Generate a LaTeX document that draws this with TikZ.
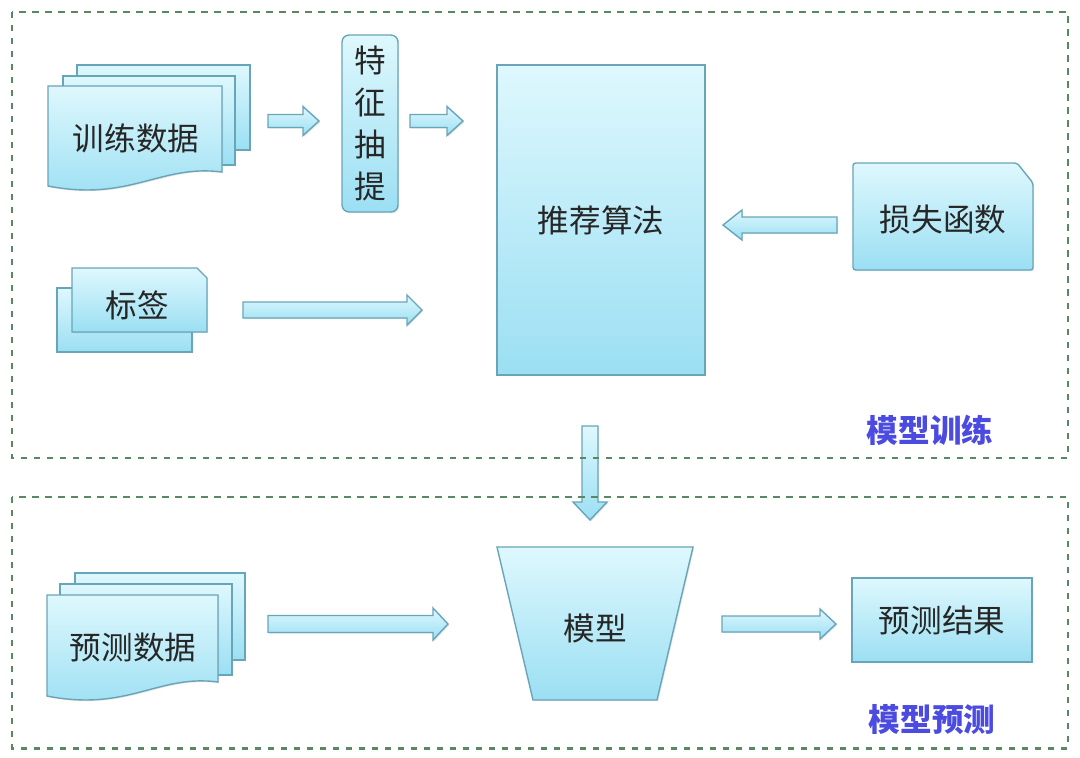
\documentclass[tikz,border=0pt]{standalone}
\usepackage{fontspec}
\newfontfamily\cjk{Noto Sans CJK SC}
\usetikzlibrary{calc,shadows}

\definecolor{boxtop}{RGB}{222,248,253}
\definecolor{boxbot}{RGB}{155,223,243}
\definecolor{boxline}{RGB}{105,165,185}
\definecolor{framegreen}{RGB}{90,135,100}
\definecolor{stageblue}{RGB}{75,75,225}

\tikzset{
	sheet/.style={draw=boxline, line width=0.8pt, top color=boxtop, bottom color=boxbot,
		drop shadow={opacity=0.2, shadow xshift=0.7pt, shadow yshift=-0.7pt}},
	box/.style={sheet, inner sep=0pt},
	word/.style={font=\cjk\fontsize{18}{24}\selectfont, text=black!85},
	stage/.style={font=\cjk\bfseries\fontsize{18}{20}\selectfont, text=stageblue},
	stagebox/.style={draw=framegreen, line width=1.7pt, dash pattern=on 3.6pt off 3.8pt},
}

% from, to, shaft half width, head half width, head length
\newcommand\blockarrow[5]{%
	\coordinate (hb) at ($(#2)!#5!(#1)$);
	\draw[sheet] ($(#1)!#3!90:(#2)$) -- ($(hb)!#3!90:(#2)$) -- ($(hb)!#4!90:(#2)$) -- (#2)
		-- ($(hb)!#4!-90:(#2)$) -- ($(hb)!#3!-90:(#2)$) -- ($(#1)!#3!-90:(#2)$) -- cycle;
}

\begin{document}
\begin{tikzpicture}[x=0.02cm, y=-0.02cm]
		\useasboundingbox (0,0) rectangle (1080,758);

		% training data
		\draw[sheet] (77,65) rectangle (250,150);
		\draw[sheet] (63,76) rectangle (235,165);
		\draw[sheet] (48,86) -- (222,86) -- (222,172) .. controls (160,164) and (130,202) .. (48,186) -- cycle;
		\draw (136,138) node [word] (train) {训练数据};

		% feature extraction
		\draw (370,123.5) node [box, rounded corners=4pt, minimum width=1.12cm, minimum height=3.54cm,
			word, align=center] (feat) {特\\征\\抽\\提};

		% labels
		\draw[sheet] (57,288) rectangle (192,352);
		\draw[sheet] (72,268) -- (197,268) -- (207,278) -- (207,332) -- (72,332) -- cycle;
		\draw (137,305) node [word] (label) {标签};

		% algorithm
		\draw (601,220) node [box, minimum width=4.16cm, minimum height=6.2cm, word] (algo) {推荐算法};

		% loss function
		\draw[sheet, rounded corners=1.5pt] (853,163) -- (1017,163) -- (1033,183) -- (1033,270) -- (853,270) -- cycle;
		\draw (943,220) node [word] (loss) {损失函数};

		% prediction data
		\draw[sheet] (75,573) rectangle (245,660);
		\draw[sheet] (60,584) rectangle (232,675);
		\draw[sheet] (47,595) -- (218,595) -- (218,682) .. controls (158,674) and (128,712) .. (47,696) -- cycle;
		\draw (133,648) node [word] (pred) {预测数据};

		% model
		\draw[sheet] (497,547) -- (693,547) -- (657,700) -- (533,700) -- cycle;
		\draw (595,628) node [word] (model) {模型};

		% result
		\draw (942,620) node [box, minimum width=3.6cm, minimum height=1.68cm, word] (result) {预测结果};

		% arrows
		\coordinate (a1s) at (268,121); \coordinate (a1e) at (319,121);
		\coordinate (a2s) at (410,121); \coordinate (a2e) at (463,121);
		\coordinate (a3s) at (243,310); \coordinate (a3e) at (422,310);
		\coordinate (a4s) at (837,225); \coordinate (a4e) at (723,225);
		\coordinate (a5s) at (590,426); \coordinate (a5e) at (590,520);
		\coordinate (a6s) at (268,624); \coordinate (a6e) at (448,624);
		\coordinate (a7s) at (722,624); \coordinate (a7e) at (836,624);

		\blockarrow{a1s}{a1e}{0.13cm}{0.29cm}{0.32cm}
		\blockarrow{a2s}{a2e}{0.13cm}{0.29cm}{0.32cm}
		\blockarrow{a3s}{a3e}{0.16cm}{0.3cm}{0.3cm}
		\blockarrow{a4s}{a4e}{0.16cm}{0.3cm}{0.38cm}
		\blockarrow{a5s}{a5e}{0.16cm}{0.34cm}{0.36cm}
		\blockarrow{a6s}{a6e}{0.17cm}{0.32cm}{0.3cm}
		\blockarrow{a7s}{a7e}{0.16cm}{0.3cm}{0.32cm}

		% stages
		\draw[stagebox] (12,12) rectangle (1068,458);
		\draw[stagebox] (12,497) rectangle (1068,748);
		\draw (930,430) node [stage] (trainstage) {模型训练};
		\draw (932,720) node [stage] (predstage) {模型预测};
	\end{tikzpicture}
\end{document}
